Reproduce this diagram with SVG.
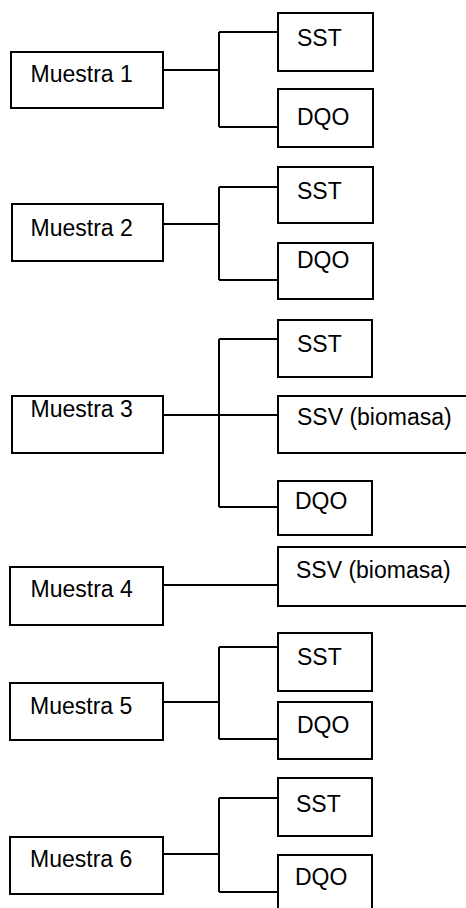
<svg xmlns="http://www.w3.org/2000/svg" width="466" height="908" viewBox="0 0 466 908">
<style>
.box{fill:#fff;stroke:#000;stroke-width:2}
.lbl{font-family:"Liberation Sans",Arial,sans-serif;font-size:23px;fill:#000}
.conn{fill:none;stroke:#000;stroke-width:2}
</style>
<rect width="466" height="908" fill="#fff"/>
<g id="connectors">
<path class="conn" d="M163,70 H219 M219,32 V127 M219,32 H278 M219,127 H278"/>
<path class="conn" d="M163,224 H219 M219,187 V280 M219,187 H278 M219,280 H278"/>
<path class="conn" d="M163,415 H278 M219,339 V507 M219,339 H278 M219,507 H278"/>
<path class="conn" d="M163,585 H278"/>
<path class="conn" d="M163,702 H219 M219,647 V739 M219,647 H278 M219,739 H278"/>
<path class="conn" d="M163,854 H219 M219,798 V892 M219,798 H278 M219,892 H278"/>
</g>
<g id="m1"><rect class="box" x="11" y="52" width="152" height="56"/><text class="lbl" x="30.5" y="82">Muestra 1</text></g>
<g id="sst1"><rect class="box" x="278" y="13" width="95" height="58"/><text class="lbl" x="297" y="46">SST</text></g>
<g id="dqo1"><rect class="box" x="278" y="89" width="95" height="58"/><text class="lbl" x="297" y="125">DQO</text></g>
<g id="m2"><rect class="box" x="12" y="204" width="151" height="57"/><text class="lbl" x="30.5" y="236">Muestra 2</text></g>
<g id="sst2"><rect class="box" x="278" y="167" width="95" height="56"/><text class="lbl" x="297" y="199">SST</text></g>
<g id="dqo2"><rect class="box" x="278" y="243" width="95" height="56"/><text class="lbl" x="297" y="268">DQO</text></g>
<g id="m3"><rect class="box" x="12" y="396" width="151" height="57"/><text class="lbl" x="30.5" y="417">Muestra 3</text></g>
<g id="sst3"><rect class="box" x="278" y="320" width="94" height="57"/><text class="lbl" x="297" y="352">SST</text></g>
<g id="ssv3"><rect class="box" x="278" y="396" width="200" height="57"/><text class="lbl" x="297" y="425">SSV (biomasa)</text></g>
<g id="dqo3"><rect class="box" x="278" y="481" width="94" height="54"/><text class="lbl" x="295" y="509">DQO</text></g>
<g id="m4"><rect class="box" x="10" y="567" width="153" height="58"/><text class="lbl" x="30.5" y="597">Muestra 4</text></g>
<g id="ssv4"><rect class="box" x="278" y="547" width="200" height="59"/><text class="lbl" x="296" y="578">SSV (biomasa)</text></g>
<g id="m5"><rect class="box" x="10" y="683" width="153" height="57"/><text class="lbl" x="30" y="714">Muestra 5</text></g>
<g id="sst5"><rect class="box" x="278" y="633" width="94" height="58"/><text class="lbl" x="297" y="665">SST</text></g>
<g id="dqo5"><rect class="box" x="278" y="702" width="94" height="57"/><text class="lbl" x="297" y="733">DQO</text></g>
<g id="m6"><rect class="box" x="10" y="837" width="153" height="57"/><text class="lbl" x="30" y="867">Muestra 6</text></g>
<g id="sst6"><rect class="box" x="278" y="778" width="94" height="58"/><text class="lbl" x="296" y="812">SST</text></g>
<g id="dqo6"><rect class="box" x="278" y="855" width="94" height="70"/><text class="lbl" x="295" y="885">DQO</text></g>
</svg>
